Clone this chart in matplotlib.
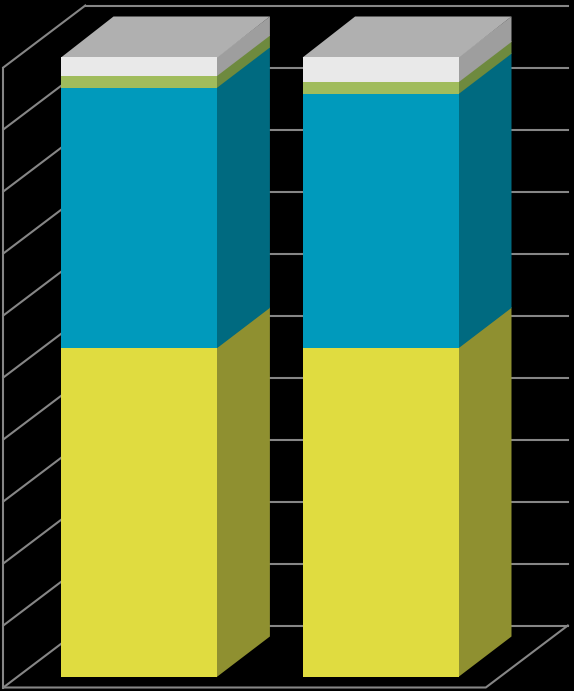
#3D stacked columns on black background
import matplotlib.pyplot as plt

#Chart values (percent of each column)
categories=['A','B']
yellow=[53.0,53.0]
blue=[42.0,41.0]
green=[1.9,1.9]
white=[3.1,4.1]
ticks=[0,10,20,30,40,50,60,70,80,90,100]

series=[yellow,blue,green,white]
front_colors=['#E0DC40','#009ABC','#A0BC5C','#E9E9E9']
side_colors=['#8F9030','#006A80','#6E8A3E','#9E9E9E']
top_color='#B0B0B0'
grid_color='#868686'

#Layout of the 3D box in pixels
W,H=574,691
unit=6.2            #pixels per percent
wall_x,wall_y=3.3,687.5 #front corner of the floor
dx,dy=82,-62        #depth of the box
floor_w=482.5
bar_y=676.5         #base of the columns, front face
bar_x=[61,302.6]
bar_w=156.4
sx,sy=52.5,-40      #depth of the columns
lap=1.0             #faces overlap a little so no seam shows

fig=plt.figure(figsize=(W/100,H/100),dpi=100,facecolor='black')
ax=fig.add_axes([0,0,1,1])
ax.set_xlim(0,W)
ax.set_ylim(H,0)
ax.axis('off')

#Walls and floor
lw=1.5
for t in ticks:
    yf=wall_y-t*unit
    ax.plot([wall_x,wall_x+dx],[yf,yf+dy],color=grid_color,lw=lw,zorder=1)
    ax.plot([wall_x+dx,wall_x+dx+floor_w],[yf+dy,yf+dy],color=grid_color,lw=lw,zorder=1)
ax.plot([wall_x,wall_x],[wall_y,wall_y-100*unit],color=grid_color,lw=lw,zorder=1)
ax.plot([wall_x,wall_x+floor_w,wall_x+floor_w+dx],[wall_y,wall_y,wall_y+dy],color=grid_color,lw=lw,zorder=1)

#Columns
for i in range(len(categories)):
    x0=bar_x[i]
    x1=x0+bar_w
    total=0.0
    for s in range(len(series)):
        y0=bar_y-total*unit
        total=total+series[s][i]
        y1=bar_y-total*unit
        #each segment runs a little under the one above it
        top_lap=lap if s<len(series)-1 else 0
        ax.fill([x0,x1,x1,x0],[y0,y0,y1-top_lap,y1-top_lap],color=front_colors[s],lw=0,zorder=4+s*0.1)
        ax.fill([x1-lap,x1+sx,x1+sx,x1-lap],[y0-sy*lap/sx,y0+sy,y1+sy-top_lap,y1-sy*lap/sx-top_lap],color=side_colors[s],lw=0,zorder=2+s*0.1)
    ax.fill([x0,x1,x1+sx,x0+sx],[y1+lap,y1+lap,y1+sy,y1+sy],color=top_color,lw=0,zorder=3)

plt.savefig("out.png",dpi=100,facecolor='black')
